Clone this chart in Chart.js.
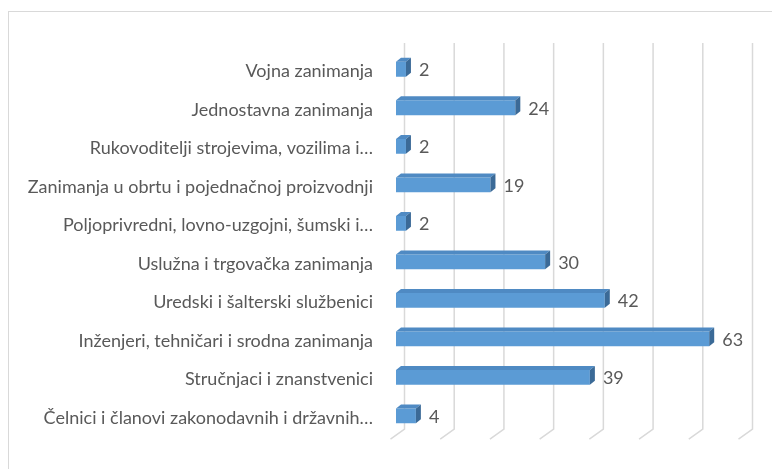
<!DOCTYPE html>
<html>
<head>
<meta charset="utf-8">
<script src="https://cdn.jsdelivr.net/npm/chart.js@4.4.0/dist/chart.umd.min.js"></script>
<style>
  html, body { margin: 0; padding: 0; background: #fff; }
  #wrap { width: 772px; height: 469px; }
</style>
</head>
<body>
<div id="wrap"><canvas id="occupations" width="772" height="469"></canvas></div>
<script>
const categories = [
  'Vojna zanimanja',
  'Jednostavna zanimanja',
  'Rukovoditelji strojevima, vozilima i…',
  'Zanimanja u obrtu i pojednačnoj proizvodnji',
  'Poljoprivredni, lovno-uzgojni, šumski i…',
  'Uslužna i trgovačka zanimanja',
  'Uredski i šalterski službenici',
  'Inženjeri, tehničari i srodna zanimanja',
  'Stručnjaci i znanstvenici',
  'Čelnici i članovi zakonodavnih i državnih…'
];
const counts = [2, 24, 2, 19, 2, 30, 42, 63, 39, 4];
const axisTicks = [0, 10, 20, 30, 40, 50, 60, 70];

const FONT = 'Lato, sans-serif';
const FONT_SIZE = 18;
const TEXT = '#595959';
const GRID = '#d9d9d9';
// 3d depth of the bars and of the back wall
const dx = 5, dy = 4;
const wallX = 8.5, wallY = 7;

const frame = {
  id: 'frame',
  beforeDraw(chart) {
    const ctx = chart.ctx;
    ctx.save();
    ctx.strokeStyle = GRID;
    ctx.lineWidth = 1;
    ctx.strokeRect(8.5, 11.5, 800, 500);
    ctx.restore();
  }
};

const wall = {
  id: 'wall',
  beforeDatasetsDraw(chart) {
    const ctx = chart.ctx;
    const xs = chart.scales.x;
    const area = chart.chartArea;
    ctx.save();
    ctx.strokeStyle = GRID;
    ctx.lineWidth = 1.5;
    ctx.beginPath();
    axisTicks.forEach(v => {
      const x = xs.getPixelForValue(v) + wallX;
      ctx.moveTo(x, area.top - wallY);
      ctx.lineTo(x, area.bottom - 6);
      ctx.lineTo(x - 14, area.bottom + 4);
    });
    ctx.stroke();
    ctx.restore();
  }
};

const bars3d = {
  id: 'bars3d',
  afterDatasetsDraw(chart) {
    const ctx = chart.ctx;
    const meta = chart.getDatasetMeta(0);
    ctx.save();
    meta.data.forEach((bar, i) => {
      const left = bar.base, right = bar.x;
      const top = bar.y - bar.height / 2, bottom = bar.y + bar.height / 2;
      ctx.fillStyle = '#4f8ac3';
      ctx.beginPath();
      ctx.moveTo(left, top);
      ctx.lineTo(left + dx, top - dy);
      ctx.lineTo(right + dx, top - dy);
      ctx.lineTo(right, top);
      ctx.closePath();
      ctx.fill();
      ctx.fillStyle = '#3b6a97';
      ctx.beginPath();
      ctx.moveTo(right, top);
      ctx.lineTo(right + dx, top - dy);
      ctx.lineTo(right + dx, bottom - dy);
      ctx.lineTo(right, bottom);
      ctx.closePath();
      ctx.fill();

      ctx.fillStyle = TEXT;
      ctx.font = FONT_SIZE + 'px ' + FONT;
      ctx.textAlign = 'left';
      ctx.textBaseline = 'middle';
      ctx.fillText(String(counts[i]), right + 13, bar.y + 1);
    });
    ctx.restore();
  }
};

new Chart(document.getElementById('occupations'), {
  type: 'bar',
  data: {
    labels: categories,
    datasets: [{
      data: counts,
      backgroundColor: '#5b9bd5',
      borderWidth: 0,
      barPercentage: 0.385,
      categoryPercentage: 1
    }]
  },
  options: {
    indexAxis: 'y',
    responsive: false,
    animation: false,
    layout: { padding: { top: 50, right: 28, bottom: 29, left: 0 } },
    plugins: {
      legend: { display: false },
      tooltip: { enabled: false }
    },
    scales: {
      x: {
        display: false,
        min: 0,
        max: 70,
        ticks: { stepSize: 10 }
      },
      y: {
        afterFit(scale) { scale.width = 396; },
        grid: { display: false, drawTicks: false },
        border: { display: false },
        ticks: {
          autoSkip: false,
          padding: 23,
          labelOffset: 2,
          color: TEXT,
          font: { family: FONT, size: FONT_SIZE }
        }
      }
    }
  },
  plugins: [frame, wall, bars3d]
});
</script>
</body>
</html>
